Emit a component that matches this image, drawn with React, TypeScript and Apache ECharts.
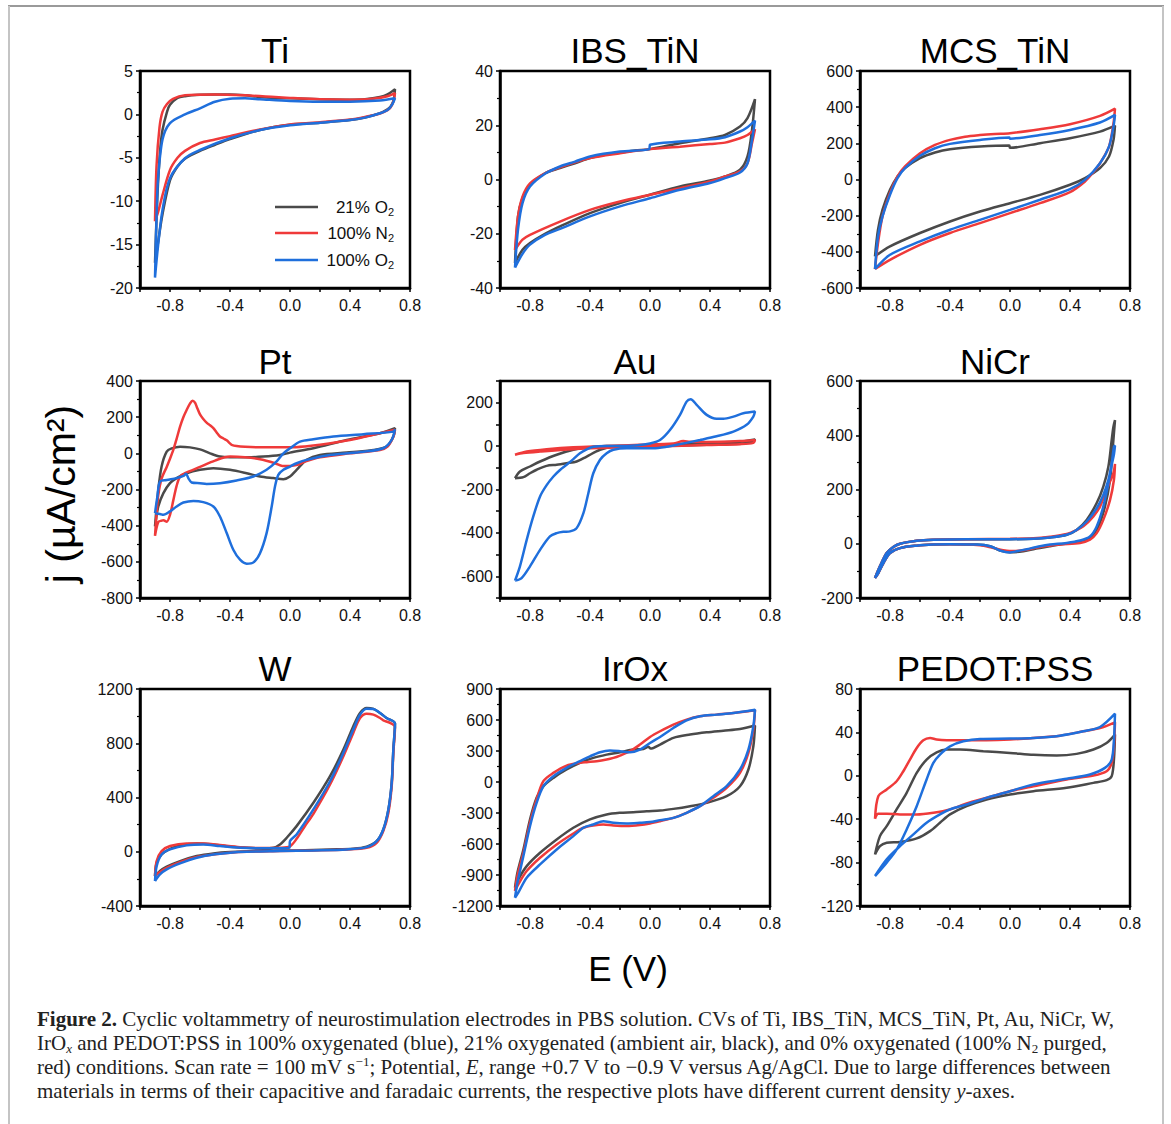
import React, { useEffect, useRef } from "react";
import * as echarts from "echarts";

// ---------- panel titles & axes ----------
const titles = ["Ti", "IBS_TiN", "MCS_TiN", "Pt", "Au", "NiCr", "W", "IrOx", "PEDOT:PSS"];
const yMins = [-20, -40, -600, -800, -700, -200, -400, -1200, -120];
const yMaxs = [5, 40, 600, 400, 300, 600, 1200, 900, 80];
const yIntervals = [5, 20, 200, 200, 100, 200, 400, 300, 40];
const auYLabels = ["-600", "-400", "-200", "0", "200"];
const xTickLabels = ["-0.8", "-0.4", "0.0", "0.4", "0.8"];
const xMin = -1.0;
const xMax = 0.8;
const seriesNames = ["21% O2", "100% N2", "100% O2"];

// ---------- data: [E (V), j (uA/cm2)] ----------
const tiBlack = [[-0.9,-17.1],[-0.89,-12],[-0.88,-8],[-0.865,-4],[-0.85,-1.8],[-0.82,0.3],[-0.8,1.1],[-0.75,1.9],[-0.7,2.1],[-0.6,2.25],[-0.5,2.3],[-0.4,2.3],[-0.3,2.2],[-0.2,2.0],[-0.1,1.9],[0,1.85],[0.2,1.75],[0.4,1.7],[0.5,1.75],[0.6,2.0],[0.65,2.3],[0.7,2.9],[0.69,1.6],[0.67,0.9],[0.65,0.6],[0.6,0.15],[0.5,-0.35],[0.4,-0.65],[0.2,-0.95],[0,-1.2],[-0.2,-1.8],[-0.4,-2.85],[-0.5,-3.5],[-0.6,-4.2],[-0.7,-5.1],[-0.75,-6],[-0.8,-7.6],[-0.85,-11.5],[-0.88,-14.8],[-0.9,-17.1]];
const tiRed = [[-0.9,-12.3],[-0.89,-6],[-0.87,-1.5],[-0.85,0.3],[-0.82,1.2],[-0.78,1.8],[-0.7,2.2],[-0.5,2.3],[-0.3,2.2],[-0.1,2.0],[0,1.9],[0.2,1.75],[0.4,1.7],[0.55,1.8],[0.65,2.1],[0.7,2.45],[0.69,1.5],[0.67,0.8],[0.65,0.5],[0.6,0.1],[0.5,-0.3],[0.4,-0.6],[0.2,-0.9],[0,-1.15],[-0.2,-1.75],[-0.4,-2.5],[-0.5,-2.9],[-0.6,-3.3],[-0.7,-4.2],[-0.75,-5],[-0.8,-6.4],[-0.85,-9.3],[-0.88,-11.3],[-0.9,-12.3]];
const tiBlue = [[-0.9,-18.8],[-0.89,-12],[-0.88,-7.5],[-0.85,-2.9],[-0.8,-1.0],[-0.7,0],[-0.6,0.7],[-0.5,1.45],[-0.4,1.8],[-0.3,1.85],[-0.2,1.75],[0,1.55],[0.2,1.47],[0.4,1.47],[0.6,1.6],[0.7,1.86],[0.68,1.1],[0.65,0.5],[0.6,0.13],[0.5,-0.37],[0.4,-0.64],[0.2,-0.95],[0,-1.25],[-0.2,-1.8],[-0.4,-2.75],[-0.6,-4.1],[-0.7,-5.05],[-0.8,-7.35],[-0.85,-11],[-0.88,-15.2],[-0.9,-18.8]];

const ibsBlack = [[-0.9,-30.8],[-0.88,-13.6],[-0.85,-6.9],[-0.8,-2],[-0.7,2.3],[-0.6,4.2],[-0.5,6],[-0.4,7.9],[-0.3,9.1],[-0.2,9.9],[-0.1,10.7],[0,11.2],[0.2,13.4],[0.4,15.2],[0.5,16.4],[0.6,19.5],[0.65,22.6],[0.7,29.6],[0.68,18.3],[0.65,8.5],[0.6,3.6],[0.5,1.1],[0.4,-0.4],[0.2,-2.6],[0,-5.6],[-0.2,-8.7],[-0.4,-12.4],[-0.6,-17.3],[-0.7,-20],[-0.8,-23.4],[-0.85,-25.9],[-0.9,-30.8]];
const ibsRed = [[-0.9,-26],[-0.88,-13.6],[-0.85,-6.3],[-0.8,-1.4],[-0.7,2.3],[-0.6,4.5],[-0.4,7.9],[-0.2,9.7],[0,11.2],[0.2,12.1],[0.4,13.1],[0.5,13.6],[0.6,15.2],[0.65,16.4],[0.7,18.5],[0.68,13.4],[0.65,6],[0.6,3],[0.5,1.1],[0.4,-0.7],[0.2,-3.2],[0,-5.6],[-0.2,-8.1],[-0.4,-11.2],[-0.6,-15.5],[-0.8,-20.4],[-0.85,-22.2],[-0.9,-26]];
const ibsBlue = [[-0.9,-32.5],[-0.88,-18.5],[-0.85,-8.7],[-0.8,-2.6],[-0.7,2.1],[-0.6,4.8],[-0.5,6.6],[-0.4,8.5],[-0.2,10.3],[-0.005,11.2],[0,12.8],[0.2,14],[0.4,14.8],[0.5,15.6],[0.6,17.7],[0.65,19.3],[0.7,21.7],[0.68,14.6],[0.65,6],[0.6,2.6],[0.5,0.5],[0.4,-1.3],[0.2,-3.8],[0,-6.9],[-0.2,-9.9],[-0.4,-13.6],[-0.6,-18.2],[-0.7,-20.4],[-0.8,-24],[-0.85,-27.4],[-0.9,-32.5]];

const mcsBlack = [[-0.9,-425],[-0.88,-278],[-0.85,-167],[-0.8,-57],[-0.75,17],[-0.7,63],[-0.6,118],[-0.5,149],[-0.4,167],[-0.2,182],[-0.005,188],[0,175],[0.2,201],[0.4,228],[0.6,265],[0.7,298],[0.69,219],[0.66,127],[0.6,63],[0.5,8],[0.4,-29],[0.2,-85],[0,-131],[-0.2,-177],[-0.4,-232],[-0.6,-296],[-0.8,-370],[-0.9,-425]];
const mcsRed = [[-0.9,-495],[-0.88,-352],[-0.85,-204],[-0.8,-75],[-0.75,17],[-0.7,72],[-0.6,145],[-0.5,191],[-0.4,219],[-0.3,237],[-0.2,246],[-0.1,252],[0,256],[0.2,278],[0.4,306],[0.6,352],[0.7,392],[0.69,311],[0.66,182],[0.6,90],[0.55,35],[0.5,-11],[0.4,-70],[0.2,-131],[0,-186],[-0.2,-241],[-0.4,-296],[-0.6,-361],[-0.8,-444],[-0.9,-495]];
const mcsBlue = [[-0.9,-495],[-0.88,-315],[-0.85,-204],[-0.8,-84],[-0.75,8],[-0.7,63],[-0.6,131],[-0.5,173],[-0.4,197],[-0.2,219],[-0.005,232],[0,226],[0.2,246],[0.4,274],[0.6,315],[0.7,357],[0.69,293],[0.66,182],[0.6,90],[0.5,-2],[0.4,-53],[0.2,-112],[0,-168],[-0.2,-223],[-0.4,-278],[-0.6,-342],[-0.8,-416],[-0.9,-495]];

const ptBlack = [[-0.9,-404],[-0.878,-202],[-0.856,-73],[-0.822,9],[-0.789,27],[-0.733,37],[-0.667,33],[-0.6,22],[-0.533,0],[-0.467,-18],[-0.4,-22],[-0.289,-22],[-0.178,-18],[-0.067,-9],[0,4],[0.156,28],[0.378,74],[0.6,111],[0.7,139],[0.689,93],[0.644,37],[0.556,19],[0.378,4],[0.2,-9],[0.111,-36],[0.044,-91],[0,-128],[-0.044,-143],[-0.111,-137],[-0.2,-128],[-0.289,-110],[-0.4,-91],[-0.511,-82],[-0.6,-91],[-0.689,-110],[-0.756,-137],[-0.8,-165],[-0.844,-220],[-0.878,-294],[-0.9,-404]];
const ptRed = [[-0.9,-456],[-0.89,-340],[-0.878,-230],[-0.856,-140],[-0.822,-75],[-0.8,-30],[-0.778,19],[-0.756,80],[-0.733,148],[-0.711,200],[-0.689,240],[-0.667,275],[-0.649,291],[-0.633,280],[-0.622,258],[-0.6,215],[-0.578,190],[-0.556,170],[-0.533,155],[-0.511,139],[-0.489,115],[-0.467,93],[-0.444,82],[-0.422,72],[-0.4,55],[-0.389,47],[-0.356,40],[-0.3,36],[-0.178,33],[0,33],[0.1,38],[0.2,47],[0.4,74],[0.6,111],[0.7,130],[0.69,93],[0.65,37],[0.6,19],[0.4,0],[0.2,-22],[0.1,-46],[0.05,-64],[0,-70],[-0.05,-70],[-0.1,-55],[-0.2,-33],[-0.3,-22],[-0.4,-18],[-0.5,-40],[-0.6,-75],[-0.7,-110],[-0.733,-128],[-0.756,-180],[-0.778,-260],[-0.8,-340],[-0.822,-378],[-0.844,-370],[-0.856,-372],[-0.878,-380],[-0.9,-456]];
const ptBlue = [[-0.9,-331],[-0.884,-239],[-0.867,-156],[-0.822,-147],[-0.756,-137],[-0.711,-125],[-0.693,-113],[-0.678,-137],[-0.656,-161],[-0.6,-165],[-0.556,-169],[-0.467,-165],[-0.356,-150],[-0.244,-128],[-0.156,-91],[-0.089,-45],[-0.044,0],[0,28],[0.067,65],[0.156,78],[0.289,93],[0.489,106],[0.689,120],[0.7,133],[0.678,74],[0.622,28],[0.489,9],[0.267,-9],[0.111,-36],[0.044,-55],[0,-73],[-0.044,-91],[-0.078,-119],[-0.1,-183],[-0.122,-294],[-0.156,-441],[-0.2,-552],[-0.244,-603],[-0.289,-610],[-0.333,-588],[-0.378,-533],[-0.422,-441],[-0.467,-349],[-0.511,-294],[-0.578,-270],[-0.644,-263],[-0.711,-272],[-0.756,-294],[-0.8,-321],[-0.844,-340],[-0.867,-335],[-0.9,-331]];

const auBlack = [[-0.9,-148],[-0.867,-117],[-0.8,-94],[-0.733,-71],[-0.622,-40],[-0.511,-17],[-0.4,-5],[-0.289,0],[-0.067,3],[0.156,9],[0.378,15],[0.6,21],[0.7,31],[0.689,20],[0.6,12],[0.378,6],[0.156,2],[-0.067,0],[-0.244,-3],[-0.333,-17],[-0.422,-48],[-0.489,-71],[-0.556,-79],[-0.622,-86],[-0.689,-91],[-0.756,-109],[-0.8,-125],[-0.844,-143],[-0.9,-148]];
const auRed = [[-0.9,-40],[-0.822,-25],[-0.689,-14],[-0.511,-5],[-0.289,0],[-0.067,6],[0.156,12],[0.222,23],[0.267,20],[0.378,19],[0.6,23],[0.7,28],[0.689,15],[0.6,9],[0.378,5],[0.156,0],[-0.067,-3],[-0.289,-8],[-0.511,-14],[-0.733,-25],[-0.844,-32],[-0.9,-40]];
const auBlue = [[-0.9,-620],[-0.867,-554],[-0.822,-432],[-0.778,-324],[-0.733,-232],[-0.689,-180],[-0.644,-140],[-0.6,-110],[-0.556,-86],[-0.511,-60],[-0.467,-33],[-0.422,-15],[-0.378,-3],[-0.289,0],[-0.178,0],[-0.067,5],[0,12],[0.067,28],[0.133,74],[0.2,144],[0.244,205],[0.271,216],[0.311,190],[0.378,144],[0.444,126],[0.489,126],[0.556,136],[0.622,151],[0.7,159],[0.689,136],[0.644,98],[0.556,67],[0.444,45],[0.333,28],[0.2,9],[0.111,-3],[0.022,-10],[-0.067,-10],[-0.156,-10],[-0.244,-17],[-0.289,-33],[-0.333,-63],[-0.378,-125],[-0.411,-217],[-0.444,-309],[-0.489,-378],[-0.533,-393],[-0.578,-395],[-0.622,-401],[-0.667,-416],[-0.733,-478],[-0.8,-554],[-0.856,-608],[-0.9,-620]];

const nicrBlack = [[-0.9,-126],[-0.867,-83],[-0.822,-34],[-0.778,-12],[-0.733,0],[-0.622,11],[-0.511,15],[-0.289,17],[0,17],[0.156,18],[0.267,23],[0.378,33],[0.444,51],[0.511,88],[0.578,150],[0.622,211],[0.656,285],[0.678,383],[0.689,430],[0.7,456],[0.684,346],[0.667,236],[0.633,137],[0.589,64],[0.533,21],[0.467,9],[0.4,3],[0.333,-3],[0.267,-9],[0.156,-20],[0.089,-28],[0,-31],[-0.067,-25],[-0.133,-9],[-0.222,-3],[-0.4,-2],[-0.511,-3],[-0.622,-7],[-0.733,-16],[-0.8,-34],[-0.844,-71],[-0.878,-108],[-0.9,-126]];
const nicrRed = [[-0.9,-126],[-0.867,-83],[-0.822,-34],[-0.778,-12],[-0.733,0],[-0.622,11],[-0.511,15],[-0.289,17],[0,18],[0.156,20],[0.267,26],[0.378,36],[0.444,50],[0.489,64],[0.556,101],[0.6,137],[0.644,199],[0.689,260],[0.7,294],[0.693,236],[0.667,162],[0.622,88],[0.578,39],[0.533,15],[0.467,3],[0.333,-3],[0.2,-12],[0.111,-22],[0.022,-27],[-0.022,-26],[-0.111,-16],[-0.2,-6],[-0.4,-2],[-0.511,-3],[-0.622,-7],[-0.733,-16],[-0.8,-34],[-0.844,-71],[-0.878,-108],[-0.9,-126]];
const nicrBlue = [[-0.9,-126],[-0.867,-83],[-0.822,-34],[-0.778,-12],[-0.733,0],[-0.622,11],[-0.511,15],[-0.289,17],[-0.067,17],[0,17],[0.156,18],[0.267,23],[0.378,33],[0.444,51],[0.511,82],[0.578,131],[0.622,180],[0.656,236],[0.678,297],[0.693,358],[0.7,362],[0.693,330],[0.678,290],[0.656,223],[0.622,137],[0.578,64],[0.533,27],[0.467,12],[0.378,3],[0.267,-3],[0.2,-9],[0.111,-20],[0.044,-28],[0,-32],[-0.067,-25],[-0.133,-9],[-0.222,-3],[-0.4,-2],[-0.511,-3],[-0.622,-7],[-0.733,-16],[-0.8,-34],[-0.844,-71],[-0.878,-108],[-0.9,-126]];

const wBlack = [[-0.9,-179],[-0.889,-81],[-0.856,-20],[-0.8,22],[-0.733,47],[-0.622,61],[-0.511,54],[-0.4,37],[-0.289,29],[-0.178,25],[-0.111,29],[-0.067,54],[-0.022,103],[0.044,189],[0.156,361],[0.267,557],[0.356,753],[0.422,925],[0.467,1023],[0.511,1060],[0.556,1053],[0.6,1023],[0.644,986],[0.7,945],[0.689,753],[0.678,508],[0.656,312],[0.622,164],[0.578,78],[0.511,37],[0.422,22],[0.267,17],[0.044,10],[-0.178,7],[-0.4,-2],[-0.511,-12],[-0.622,-32],[-0.733,-69],[-0.822,-110],[-0.867,-142],[-0.9,-179]];
const wRed = [[-0.9,-179],[-0.889,-69],[-0.856,5],[-0.8,42],[-0.689,61],[-0.578,61],[-0.467,49],[-0.333,34],[-0.178,27],[-0.067,29],[0,40],[0.044,95],[0.1,190],[0.156,280],[0.267,496],[0.356,704],[0.422,876],[0.467,986],[0.511,1018],[0.556,1011],[0.6,986],[0.622,969],[0.667,950],[0.7,920],[0.689,729],[0.678,483],[0.656,287],[0.622,152],[0.578,66],[0.511,29],[0.378,17],[0.156,10],[-0.067,5],[-0.289,0],[-0.4,-7],[-0.511,-20],[-0.622,-39],[-0.733,-76],[-0.822,-118],[-0.867,-150],[-0.9,-179]];
const wBlue = [[-0.9,-216],[-0.889,-106],[-0.856,-20],[-0.8,17],[-0.689,47],[-0.578,54],[-0.467,42],[-0.333,29],[-0.178,25],[-0.067,25],[-0.004,29],[0,78],[0.044,128],[0.156,312],[0.267,520],[0.356,729],[0.422,901],[0.467,1011],[0.511,1055],[0.556,1053],[0.6,1023],[0.644,986],[0.7,945],[0.689,753],[0.678,508],[0.656,312],[0.622,164],[0.578,78],[0.511,34],[0.378,17],[0.156,10],[-0.067,5],[-0.289,0],[-0.4,-7],[-0.511,-20],[-0.622,-44],[-0.733,-86],[-0.822,-130],[-0.867,-167],[-0.9,-216]];

const irBlack = [[-0.9,-1023],[-0.884,-878],[-0.844,-653],[-0.8,-363],[-0.756,-153],[-0.711,-41],[-0.644,40],[-0.556,121],[-0.467,185],[-0.378,233],[-0.289,265],[-0.2,288],[-0.111,314],[-0.044,320],[-0.011,340],[0.004,324],[0.067,362],[0.156,427],[0.267,459],[0.378,481],[0.489,497],[0.6,513],[0.7,546],[0.689,346],[0.656,121],[0.6,-41],[0.511,-137],[0.378,-202],[0.267,-234],[0.156,-260],[0.067,-276],[-0.022,-282],[-0.111,-292],[-0.2,-298],[-0.289,-314],[-0.4,-362],[-0.511,-443],[-0.622,-556],[-0.733,-685],[-0.822,-814],[-0.878,-943],[-0.9,-1023]];
const irRed = [[-0.9,-1055],[-0.884,-910],[-0.844,-685],[-0.8,-395],[-0.756,-169],[-0.711,8],[-0.644,88],[-0.556,159],[-0.467,185],[-0.422,192],[-0.356,201],[-0.289,217],[-0.244,233],[-0.2,256],[-0.133,298],[-0.067,362],[0,436],[0.067,491],[0.156,555],[0.244,604],[0.333,636],[0.444,652],[0.556,668],[0.7,694],[0.689,507],[0.656,282],[0.6,88],[0.511,-57],[0.422,-153],[0.333,-234],[0.244,-298],[0.156,-347],[0.067,-379],[0,-401],[-0.067,-417],[-0.156,-427],[-0.244,-421],[-0.311,-411],[-0.378,-421],[-0.444,-443],[-0.511,-498],[-0.622,-604],[-0.733,-733],[-0.822,-862],[-0.878,-990],[-0.9,-1055]];
const irBlue = [[-0.9,-1120],[-0.884,-975],[-0.844,-717],[-0.8,-427],[-0.756,-202],[-0.711,-41],[-0.644,56],[-0.556,137],[-0.467,201],[-0.4,249],[-0.333,288],[-0.267,304],[-0.2,298],[-0.133,288],[-0.067,314],[0,378],[0.067,436],[0.156,523],[0.244,597],[0.333,636],[0.444,652],[0.556,668],[0.7,700],[0.689,539],[0.656,314],[0.6,121],[0.511,-41],[0.422,-137],[0.333,-234],[0.244,-298],[0.156,-347],[0.067,-369],[0,-388],[-0.067,-395],[-0.156,-401],[-0.244,-395],[-0.311,-379],[-0.378,-411],[-0.444,-443],[-0.511,-524],[-0.622,-653],[-0.733,-798],[-0.822,-926],[-0.878,-1071],[-0.9,-1120]];

const pedotBlack = [[-0.9,-72.5],[-0.867,-55.6],[-0.822,-46.4],[-0.756,-31],[-0.689,-15.7],[-0.622,2.7],[-0.556,15],[-0.489,21.7],[-0.422,24.2],[-0.333,24.2],[-0.178,22.6],[0,21.1],[0.156,19.3],[0.311,18.7],[0.444,20.2],[0.556,24.2],[0.644,30.3],[0.7,38],[0.693,15],[0.678,-0.3],[0.644,-4],[0.556,-6.5],[0.378,-11.1],[0.156,-14.2],[0,-17.2],[-0.156,-21.8],[-0.289,-28],[-0.4,-35.6],[-0.467,-43.3],[-0.533,-51],[-0.622,-57.7],[-0.733,-61],[-0.822,-61.7],[-0.867,-64.8],[-0.9,-72.5]];
const pedotRed = [[-0.9,-39.6],[-0.878,-18.8],[-0.822,-12.6],[-0.756,-5],[-0.711,4.2],[-0.667,15],[-0.622,25.7],[-0.578,32.8],[-0.533,34.9],[-0.489,33.4],[-0.422,32.8],[-0.289,32.8],[-0.156,32.8],[0,33.4],[0.156,34.9],[0.333,37],[0.489,41],[0.6,44],[0.7,49.3],[0.693,27.2],[0.678,11.9],[0.644,4.2],[0.556,0.2],[0.378,-3.4],[0.156,-9.6],[0,-14.2],[-0.156,-20.3],[-0.289,-25.5],[-0.4,-31],[-0.511,-34],[-0.622,-35.6],[-0.733,-35.6],[-0.822,-35],[-0.878,-35],[-0.9,-39.6]];
const pedotBlue = [[-0.9,-92.4],[-0.822,-80],[-0.756,-68],[-0.689,-49.5],[-0.622,-28],[-0.556,-3.4],[-0.511,11.9],[-0.467,19.6],[-0.4,27.2],[-0.311,31.8],[-0.2,34],[0,34.3],[0.156,34.9],[0.333,37],[0.489,41],[0.6,45],[0.7,57.3],[0.693,33.4],[0.678,15],[0.633,7.3],[0.533,1.2],[0.378,-2.8],[0.156,-8],[0,-14.2],[-0.156,-20.3],[-0.289,-26.4],[-0.4,-31],[-0.467,-35.6],[-0.556,-43.3],[-0.644,-54],[-0.733,-64.8],[-0.822,-77],[-0.9,-92.4]];

const blackData = [tiBlack, ibsBlack, mcsBlack, ptBlack, auBlack, nicrBlack, wBlack, irBlack, pedotBlack];
const redData = [tiRed, ibsRed, mcsRed, ptRed, auRed, nicrRed, wRed, irRed, pedotRed];
const blueData = [tiBlue, ibsBlue, mcsBlue, ptBlue, auBlue, nicrBlue, wBlue, irBlue, pedotBlue];

// ---------- style / layout ----------
const SANS = "'Liberation Sans', Arial, sans-serif";
const SERIF = "'Liberation Serif', 'Times New Roman', serif";
const COLORS = ["#4a4a4a", "#ef3a3a", "#1f6fdc"];
const gridLefts = [140, 500, 860];
const gridTops = [71, 381, 689];
const titleYs = [50, 361, 668];
const GW = 270;
const GH = 217;

function buildOption() {
  const grid: any[] = [];
  const xAxis: any[] = [];
  const yAxis: any[] = [];
  const series: any[] = [];
  const graphic: any[] = [];

  for (let i = 0; i < 9; i++) {
    const c = i % 3;
    const r = Math.floor(i / 3);
    grid.push({
      left: gridLefts[c], top: gridTops[r], width: GW, height: GH,
      show: true, borderColor: "#000", borderWidth: 2.5, backgroundColor: "transparent",
    });
    xAxis.push({
      gridIndex: i, type: "value", min: xMin, max: xMax, interval: 0.2,
      axisLine: { show: true, onZero: false, lineStyle: { color: "#000", width: 2.5 } },
      axisTick: { show: true, length: 4, lineStyle: { color: "#000", width: 1.5 } },
      splitLine: { show: false },
      axisLabel: {
        color: "#111", fontSize: 16, fontFamily: SANS, margin: 9,
        showMinLabel: true, showMaxLabel: true,
        formatter: (v: number) => {
          const rv = Math.round(v * 10) / 10;
          const s = Math.abs(rv) < 1e-9 ? "0.0" : rv.toFixed(1);
          return xTickLabels.indexOf(s) >= 0 ? s : "";
        },
      },
    });
    const isAu = i === 4;
    yAxis.push({
      gridIndex: i, type: "value", min: yMins[i], max: yMaxs[i], interval: yIntervals[i],
      axisLine: { show: true, onZero: false, lineStyle: { color: "#000", width: 2.5 } },
      axisTick: { show: true, length: 4, lineStyle: { color: "#000", width: 1.5 } },
      minorTick: { show: !isAu, splitNumber: 2, length: 3, lineStyle: { color: "#000", width: 1.2 } },
      splitLine: { show: false },
      axisLabel: {
        color: "#111", fontSize: 16, fontFamily: SANS, margin: 7,
        showMinLabel: true, showMaxLabel: true,
        formatter: (v: number) => {
          const s = String(Math.round(v));
          if (isAu) return auYLabels.indexOf(s) >= 0 ? s : "";
          return s;
        },
      },
    });
    const sets = [blackData[i], redData[i], blueData[i]];
    sets.forEach((d, k) => {
      series.push({
        type: "line", name: seriesNames[k], xAxisIndex: i, yAxisIndex: i,
        data: d, showSymbol: false, symbol: "none", smooth: 0.3,
        lineStyle: { color: COLORS[k], width: 2.5 }, z: 2 + k, clip: true,
      });
    });
    graphic.push({
      type: "text", x: gridLefts[c] + GW / 2, y: titleYs[r],
      style: { text: titles[i], fontSize: 35, fontFamily: SANS, fill: "#000", align: "center", verticalAlign: "middle" },
    });
  }

  // frame
  graphic.push({ type: "line", shape: { x1: 8, y1: 6, x2: 1164, y2: 6 }, style: { stroke: "#9a9a9a", lineWidth: 2 } });
  graphic.push({ type: "line", shape: { x1: 9, y1: 6, x2: 9, y2: 1124 }, style: { stroke: "#c4c4c4", lineWidth: 2 } });
  graphic.push({ type: "line", shape: { x1: 1163, y1: 6, x2: 1163, y2: 1124 }, style: { stroke: "#c4c4c4", lineWidth: 2 } });

  // legend in Ti panel
  const legTexts = ["{n|21% O}{s|2}", "{n|100% N}{s|2}", "{n|100% O}{s|2}"];
  const legYs = [207, 233, 260];
  for (let k = 0; k < 3; k++) {
    graphic.push({ type: "line", shape: { x1: 275, y1: legYs[k], x2: 318, y2: legYs[k] }, style: { stroke: COLORS[k], lineWidth: 2.5 } });
    graphic.push({
      type: "text", x: 394, y: legYs[k],
      style: {
        text: legTexts[k], align: "right", verticalAlign: "middle", fill: "#111",
        rich: {
          n: { fontSize: 17, fontFamily: SANS, lineHeight: 20, fill: "#111" },
          s: { fontSize: 11, fontFamily: SANS, lineHeight: 8, verticalAlign: "bottom", fill: "#111" },
        },
      },
    });
  }

  // axis names
  graphic.push({
    type: "text", x: 61, y: 494, rotation: Math.PI / 2,
    style: { text: "j (µA/cm²)", fontSize: 41, fontFamily: SANS, fill: "#000", align: "center", verticalAlign: "middle" },
  });
  graphic.push({
    type: "text", x: 628, y: 968,
    style: { text: "E (V)", fontSize: 35, fontFamily: SANS, fill: "#000", align: "center", verticalAlign: "middle" },
  });

  // caption
  const capFS = 21;
  const rich = {
    n: { fontSize: capFS, fontFamily: SERIF, lineHeight: 24, fill: "#222" },
    b: { fontSize: capFS, fontFamily: SERIF, fontWeight: "bold", lineHeight: 24, fill: "#222" },
    i: { fontSize: capFS, fontFamily: SERIF, fontStyle: "italic", lineHeight: 24, fill: "#222" },
    sub: { fontSize: 13, fontFamily: SERIF, lineHeight: 11, verticalAlign: "bottom", fill: "#222" },
    subi: { fontSize: 13, fontFamily: SERIF, fontStyle: "italic", lineHeight: 11, verticalAlign: "bottom", fill: "#222" },
    sup: { fontSize: 13, fontFamily: SERIF, lineHeight: 11, verticalAlign: "top", fill: "#222" },
  };
  const capLines = [
    "{b|Figure 2.}{n| Cyclic voltammetry of neurostimulation electrodes in PBS solution. CVs of Ti, IBS_TiN, MCS_TiN, Pt, Au, NiCr, W,}",
    "{n|IrO}{subi|x}{n| and PEDOT:PSS in 100% oxygenated (blue), 21% oxygenated (ambient air, black), and 0% oxygenated (100% N}{sub|2}{n| purged,}",
    "{n|red) conditions. Scan rate = 100 mV s}{sup|−1}{n|; Potential, }{i|E}{n|, range +0.7 V to −0.9 V versus Ag/AgCl. Due to large differences between}",
    "{n|materials in terms of their capacitive and faradaic currents, the respective plots have different current density }{i|y}{n|-axes.}",
  ];
  const capYs = [1019, 1043, 1067, 1091];
  capLines.forEach((t, k) => {
    graphic.push({
      type: "text", x: 37, y: capYs[k],
      style: { text: t, align: "left", verticalAlign: "middle", rich, fill: "#222" },
    });
  });

  return {
    animation: false,
    backgroundColor: "#fff",
    grid, xAxis, yAxis, series, graphic,
  };
}

export default function App() {
  const ref = useRef<HTMLDivElement>(null);
  useEffect(() => {
    if (!ref.current) return;
    const chart = echarts.init(ref.current, null, { renderer: "svg" });
    chart.setOption(buildOption() as any);
    return () => chart.dispose();
  }, []);
  return (
    <div
      ref={ref}
      style={{ position: "absolute", left: 0, top: 0, width: 1171, height: 1124, background: "#fff" }}
    />
  );
}
